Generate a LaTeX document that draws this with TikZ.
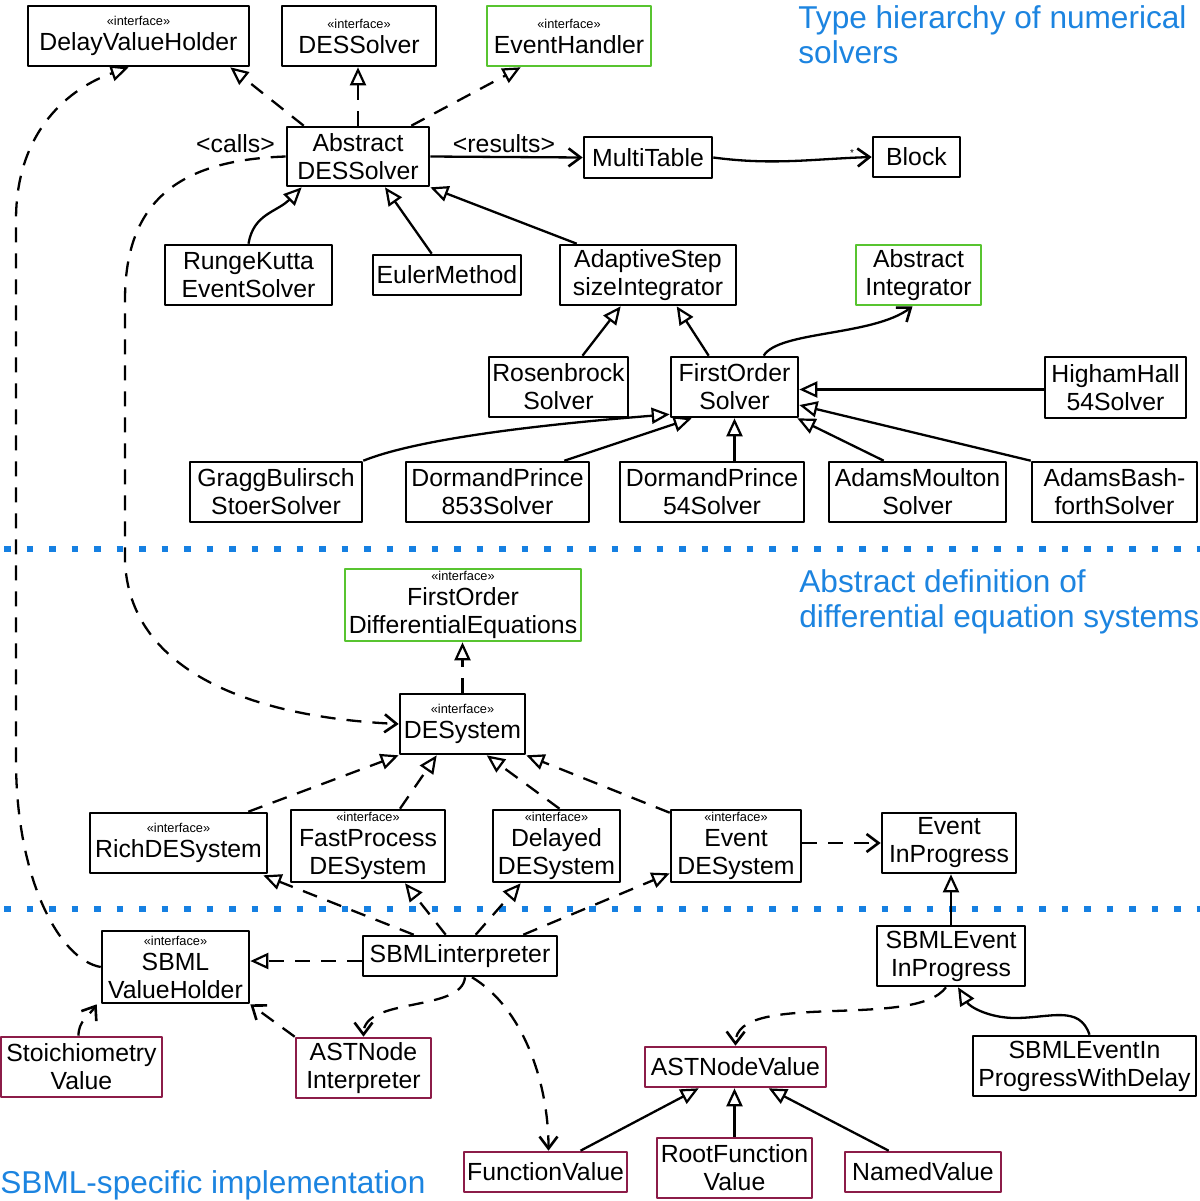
\documentclass[tikz,border=0pt]{standalone}
\usepackage{fontspec}
\setmainfont{Liberation Sans}
\usetikzlibrary{arrows.meta,calc}
\definecolor{titleblue}{RGB}{28,132,224}
\definecolor{dotblue}{RGB}{22,128,226}
\definecolor{igreen}{RGB}{88,196,48}
\definecolor{sbmlred}{RGB}{140,28,72}
\newcommand\mainsz{\fontsize{12.4}{14}\selectfont}
\newcommand\titlesz{\fontsize{15.8}{17.5}\selectfont}
\newcommand\stereo{{\fontsize{6.4}{7}\selectfont «interface»}\\[-1.5pt]}
\begin{document}
\begin{tikzpicture}[x=0.5pt,y=-0.5pt,line join=round,
  box/.style={draw,line width=1.3pt,inner sep=0pt,align=center,font=\mainsz},
  gbox/.style={box,draw=igreen},
  rbox/.style={box,draw=sbmlred},
  gen/.style={line width=1.15pt,-{Triangle[open,length=9pt,width=8pt,line width=1.1pt]}},
  impl/.style={gen,dash pattern=on 7.5pt off 5.5pt},
  assoc/.style={line width=1.15pt,-{Straight Barb[length=6pt,width=9pt,line width=1.3pt]}},
  dep/.style={assoc,dash pattern=on 7.5pt off 5.5pt},
  title/.style={font=\titlesz,text=titleblue,align=left,inner sep=0pt,anchor=north west},
  sep/.style={dotblue,line width=3.4pt,dash pattern=on 3.4pt off 7.85pt}]
\useasboundingbox (0,0) rectangle (1200,1201);

% separators
\draw[sep] (4,549) -- (1200,549);
\draw[sep] (4,909) -- (1200,909);

% titles
\node[title] (t1) at (798,5) {Type hierarchy of numerical\\solvers};
\node[title] (t2) at (799,569) {Abstract definition of\\differential equation systems};
\node[title] (t3) at (0,1170) {SBML-specific implementation};

% top section
\node[box,minimum width=110.5pt,minimum height=30pt] (dvh) at (138.5,36) {\stereo DelayValueHolder};
\node[box,minimum width=77pt,minimum height=30pt] (dess) at (359,36) {\stereo DESSolver};
\node[gbox,minimum width=82pt,minimum height=30pt] (evh) at (569,36) {\stereo EventHandler};
\node[box,minimum width=71pt,minimum height=29.5pt] (ades) at (358,156.5) {Abstract\\DESSolver};
\node[box,minimum width=64pt,minimum height=20.5pt] (mt) at (648,157.5) {MultiTable};
\node[box,minimum width=43.5pt,minimum height=20pt] (blk) at (916.5,157) {Block};
\node[box,minimum width=83.5pt,minimum height=30pt] (rk) at (248.5,275) {RungeKutta\\EventSolver};
\node[box,minimum width=74pt,minimum height=20pt] (eul) at (447,275) {EulerMethod};
\node[box,minimum width=88pt,minimum height=30pt] (ada) at (648,275) {AdaptiveStep\\sizeIntegrator};
\node[gbox,minimum width=62.5pt,minimum height=30pt] (aint) at (918.5,275) {Abstract\\Integrator};
\node[box,minimum width=69.5pt,minimum height=30pt] (ros) at (558.5,387) {Rosenbrock\\Solver};
\node[box,minimum width=63.5pt,minimum height=30pt] (fos) at (734.5,387) {FirstOrder\\Solver};
\node[box,minimum width=70.5pt,minimum height=30.5pt] (hh) at (1115.5,387.5) {HighamHall\\54Solver};
\node[box,minimum width=86pt,minimum height=30pt] (gbs) at (276,492) {GraggBulirsch\\StoerSolver};
\node[box,minimum width=91.5pt,minimum height=30pt] (dpa) at (497.5,492) {DormandPrince\\853Solver};
\node[box,minimum width=92pt,minimum height=30pt] (dpb) at (712,492) {DormandPrince\\54Solver};
\node[box,minimum width=88.5pt,minimum height=30pt] (am) at (917.5,492) {AdamsMoulton\\Solver};
\node[box,minimum width=82.5pt,minimum height=30pt] (ab) at (1114.5,492) {AdamsBash-\\forthSolver};

% middle section
\node[gbox,minimum width=118pt,minimum height=36pt] (fode) at (463,605) {\stereo FirstOrder\\DifferentialEquations};
\node[box,minimum width=62.5pt,minimum height=30pt] (des) at (462.5,724) {\stereo DESystem};
\node[box,minimum width=88.5pt,minimum height=30pt] (rich) at (178.5,843) {\stereo RichDESystem};
\node[box,minimum width=77pt,minimum height=36pt] (fast) at (368,846) {\stereo FastProcess\\DESystem};
\node[box,minimum width=63.5pt,minimum height=36pt] (del) at (556.5,846) {\stereo Delayed\\DESystem};
\node[box,minimum width=65pt,minimum height=36pt] (evd) at (736,846) {\stereo Event\\DESystem};
\node[box,minimum width=67pt,minimum height=30pt] (eip) at (949,843) {Event\\InProgress};

% bottom section
\node[box,minimum width=73.5pt,minimum height=36pt] (svh) at (175.5,967) {\stereo SBML\\ValueHolder};
\node[box,minimum width=97pt,minimum height=20pt] (sint) at (460,956) {SBMLinterpreter};
\node[box,minimum width=74pt,minimum height=30pt] (seip) at (951,956) {SBMLEvent\\InProgress};
\node[rbox,minimum width=80.5pt,minimum height=30pt] (stoi) at (81.5,1067) {Stoichiometry\\Value};
\node[rbox,minimum width=67.5pt,minimum height=30pt] (asti) at (363.5,1068) {ASTNode\\Interpreter};
\node[rbox,minimum width=90.5pt,minimum height=20pt] (astv) at (735.5,1067) {ASTNodeValue};
\node[box,minimum width=111.5pt,minimum height=30pt] (seipd) at (1084.5,1066) {SBMLEventIn\\ProgressWithDelay};
\node[rbox,minimum width=81.5pt,minimum height=20pt] (fv) at (545.5,1172) {FunctionValue};
\node[rbox,minimum width=77.5pt,minimum height=30pt] (rfv) at (734.5,1168) {RootFunction\\Value};
\node[rbox,minimum width=78pt,minimum height=20pt] (nv) at (923,1172) {NamedValue};

% labels
\node[font=\mainsz,inner sep=0pt,anchor=base] (lcalls) at (235.5,152) {<calls>};
\node[font=\mainsz,inner sep=0pt,anchor=base] (lres) at (504,152) {<results>};
\node[font=\fontsize{5}{6}\selectfont,inner sep=0pt] (lstar) at (852,153) {*};

% connectors: top section
\draw[impl] ($(ades.north west)+(18,0)$) -- ($(dvh.south east)+(-20,0)$);
\draw[impl] (ades.north) -- (ades.north |- dess.south);
\draw[impl] ($(ades.north east)+(-19,0)$) -- ($(evh.south west)+(35,0)$);
\draw[assoc] (ades.east) -- (mt.west);
\draw[assoc] (mt.east) .. controls +(60,8) and +(-60,2) .. (blk.west);
\draw[dep] (ades.west) .. controls (180,160) and (125,200) .. (125,300) -- (125,560) .. controls (128,660) and (230,716) .. (des.west);
\draw[impl] (svh.west) .. controls (60,960) and (16,880) .. (16,760) -- (16,220) .. controls (16,130) and (70,88) .. ($(dvh.south west)+(102,0)$);
\draw[gen] (rk.north) .. controls +(5,-30) and +(-25,25) .. ($(ades.south west)+(16,0)$);
\draw[gen] ($(eul.north west)+(60,0)$) -- ($(ades.south)+(27,0)$);
\draw[gen] ($(ada.north west)+(18,0)$) -- (ades.south east);
\draw[gen] ($(ros.north)+(24,0)$) -- ($(ada.south west)+(62,0)$);
\draw[gen] ($(fos.north west)+(39,0)$) -- ($(ada.south west)+(118,0)$);
\draw[assoc] ($(fos.north west)+(94,0)$) .. controls +(15,-25) and +(-40,30) .. ($(aint.south)+(-6,0)$);
\draw[gen] ($(hh.west)+(0,2)$) -- ($(fos.east)+(0,2.5)$);
\draw[gen] (gbs.north east) .. controls +(50,-20) and +(-150,12) .. ($(fos.south west)+(0,-4)$);
\draw[gen] ($(dpa.north east)+(-26,0)$) -- ($(fos.south west)+(22,0)$);
\draw[gen] (fos.south |- dpb.north) -- (fos.south);
\draw[gen] ($(am.north west)+(56,0)$) -- ($(fos.south east)+(-2,0)$);
\draw[gen] (ab.north west) -- ($(fos.east)+(0,18)$);

% connectors: middle section
\draw[impl] (des.north) -- (des.north |- fode.south);
\draw[impl] ($(rich.north east)+(-20,0)$) -- (des.south west);
\draw[impl] ($(fast.north)+(32,0)$) -- ($(des.south west)+(38,0)$);
\draw[impl] ($(del.north)+(3,0)$) -- ($(des.south west)+(88,0)$);
\draw[impl] ($(evd.north west)+(0,4)$) -- (des.south east);
\draw[dep] (evd.east |- eip.west) -- (eip.west);

% connectors: bottom section
\draw[impl] ($(sint.north west)+(52,0)$) -- ($(rich.south east)+(-5,1)$);
\draw[impl] ($(sint.north west)+(84,0)$) -- ($(fast.south)+(37,0)$);
\draw[impl] ($(sint.north west)+(114,0)$) -- ($(del.south west)+(29,0)$);
\draw[impl] ($(sint.north east)+(-35,0)$) -- ($(evd.south west)+(0,-10)$);
\draw[impl] ($(sint.west)+(0,5)$) -- ($(svh.east)+(0,-6)$);
\draw[dep] ($(sint.south)+(5,0)$) .. controls +(-3,35) and +(0,-40) .. (asti.north);
\draw[dep] ($(sint.south)+(12,0)$) .. controls +(50,30) and +(0,-70) .. ($(fv.north)+(3,0)$);
\draw[gen] (seip.north) -- (seip.north |- eip.south);
\draw[gen] ($(seipd.north)+(5,0)$) .. controls +(-10,-30) and +(35,0) .. (1015,1018) .. controls +(-25,0) and +(12,20) .. ($(seip.south)+(7,0)$);
\draw[dep] ($(seip.south)+(-5,0)$) .. controls (915,1030) and (736,990) .. (astv.north);
\draw[gen] ($(fv.north)+(35,0)$) -- ($(astv.south west)+(55,0)$);
\draw[gen] (rfv.north) -- (rfv.north |- astv.south);
\draw[gen] ($(nv.north west)+(45,0)$) -- ($(astv.south west)+(125,0)$);
\draw[dep] ($(stoi.north)+(-3,0)$) .. controls +(0,-15) and +(-8,12) .. ($(svh.south west)+(-4,0)$);
\draw[dep] (asti.north west) -- (svh.south east);
\end{tikzpicture}
\end{document}
